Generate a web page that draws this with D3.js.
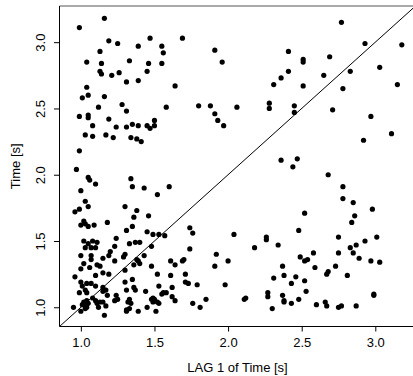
<!DOCTYPE html>
<html>
<head>
<meta charset="utf-8">
<script src="https://cdn.jsdelivr.net/npm/d3@7"></script>
<style>
  html, body { margin: 0; padding: 0; background: #fff; }
  svg text { font-family: "Liberation Sans", Arial, Helvetica, sans-serif; fill: #000; }
</style>
</head>
<body>
<div id="chart"></div>
<script>
// lag plot: x = Time(t-1), y = Time(t)
const lagX = [
  0.99,1.16,1.19,1.25,1.39,1.13,1.04,1.14,1.33,1.13,1.14,1.21,1.26,1.31,1.39,1.04,1.01,1.05,1.16,1.12,
  1.28,1.31,0.99,1.05,1.05,1.19,1.08,1.24,1.31,1.35,1.39,1.47,1.55,1.56,1.69,1.91,1.96,1.46,1.55,1.45,
  1.64,1.58,1.80,1.88,1.91,1.93,1.97,2.06,2.28,2.28,1.45,1.47,1.50,1.50,2.77,2.93,3.18,2.41,2.51,2.51,
  2.69,2.41,2.36,2.31,2.51,2.65,2.83,3.03,3.15,2.78,2.45,2.45,2.71,2.97,
  1.03,1.08,1.17,1.22,1.34,1.38,1.41,0.99,0.97,1.05,1.06,1.10,1.00,1.34,1.35,1.03,1.05,0.96,0.99,1.30,
  1.38,1.36,1.02,1.03,1.05,1.09,1.00,1.18,1.31,1.35,1.02,1.05,1.08,1.11,1.03,1.07,1.10,1.24,1.23,1.33,
  1.37,1.40,1.43,1.60,1.52,1.46,1.45,1.49,1.53,1.57,1.74,1.76,2.04,2.26,2.26,1.48,1.74,2.18,3.11,2.92,
  2.36,2.47,2.44,2.68,2.78,2.78,2.85,2.98,2.86,2.84,2.52,2.48,2.34,2.75,2.93,3.01,2.83,2.87,
  1.00,1.07,1.07,1.20,1.19,1.30,1.29,1.15,1.23,1.38,1.02,1.00,1.06,1.11,1.13,1.36,0.96,1.10,1.15,1.19,
  1.30,1.00,1.01,1.04,1.07,1.10,1.03,1.04,0.99,1.15,1.17,1.18,1.15,1.30,1.31,1.36,1.37,1.08,1.04,1.02,
  1.05,1.10,1.01,1.03,1.04,1.11,1.13,1.15,1.24,1.25,1.23,1.33,1.32,1.34,0.95,1.00,1.03,1.12,1.17,1.16,
  1.31,1.31,1.33,1.39,
  1.43,1.39,1.40,1.48,1.92,1.91,2.00,1.61,1.64,1.69,1.70,1.52,1.61,1.71,1.71,1.73,1.79,1.98,1.35,1.53,
  1.44,1.62,1.56,1.55,1.58,1.49,1.48,1.49,1.52,1.50,1.62,1.64,1.53,1.45,1.51,1.76,1.81,1.85,2.12,2.11,
  2.27,2.27,
  2.85,2.89,2.49,2.52,2.54,2.58,2.75,2.97,3.03,2.37,2.59,2.68,2.67,2.73,2.81,2.31,2.38,2.46,2.43,2.52,
  2.53,2.37,2.38,2.38,2.43,2.48,2.30,2.60,2.66,2.67,2.75,2.77,2.87,2.99,2.99
];
const lagY = [
  3.11,3.18,3.01,2.99,2.97,2.93,2.85,2.84,2.86,2.78,2.76,2.75,2.77,2.70,2.71,2.66,2.58,2.60,2.59,2.51,
  2.53,2.48,2.44,2.45,2.43,2.42,2.37,2.36,2.36,2.38,2.37,3.03,2.97,2.92,3.03,2.94,2.85,2.84,2.84,2.78,
  2.67,2.51,2.52,2.52,2.46,2.41,2.37,2.51,2.54,2.50,2.37,2.35,2.41,2.37,3.15,2.99,2.98,2.93,2.87,2.85,
  2.89,2.78,2.73,2.68,2.67,2.75,2.78,2.81,2.68,2.65,2.52,2.47,2.49,2.44,
  2.30,2.29,2.30,2.28,2.28,2.27,2.25,2.18,2.04,1.98,1.96,1.93,1.88,1.97,1.91,1.80,1.76,1.72,1.74,1.76,
  1.73,1.68,1.65,1.63,1.61,1.62,1.62,1.64,1.58,1.61,1.50,1.48,1.50,1.49,1.45,1.45,1.45,1.52,1.46,1.48,
  1.49,1.49,1.90,1.91,1.85,1.69,1.57,1.55,1.55,1.54,1.60,1.56,1.55,1.53,1.51,1.46,1.44,1.45,2.31,2.26,
  2.11,2.12,2.06,2.00,1.91,1.82,1.79,1.74,1.69,1.64,1.71,1.58,1.47,1.53,1.50,1.53,1.45,1.47,
  1.39,1.39,1.36,1.42,1.39,1.40,1.38,1.37,1.35,1.36,1.33,1.29,1.30,1.32,1.31,1.32,1.23,1.24,1.26,1.25,
  1.28,1.19,1.16,1.18,1.18,1.16,1.13,1.11,1.11,1.15,1.13,1.09,1.12,1.19,1.13,1.15,1.13,1.07,1.05,1.04,
  1.03,1.05,1.02,1.01,1.00,1.03,1.04,1.04,1.09,1.06,1.05,1.06,1.04,1.03,1.00,0.97,0.99,1.00,1.01,0.94,
  0.98,0.97,0.99,0.97,
  1.39,1.35,1.33,1.31,1.40,1.31,1.35,1.35,1.32,1.35,1.36,1.25,1.24,1.25,1.19,1.18,1.17,1.17,1.21,1.16,
  1.12,1.15,1.11,1.10,1.11,1.07,1.06,1.04,1.04,1.06,1.08,1.05,1.03,1.00,0.97,1.03,1.00,1.06,1.07,1.06,
  1.11,1.08,
  1.41,1.37,1.38,1.35,1.36,1.41,1.41,1.35,1.34,1.31,1.30,1.27,1.25,1.31,1.24,1.22,1.24,1.23,1.18,1.20,
  1.12,1.09,1.05,1.04,1.03,1.06,0.99,1.02,1.04,1.01,1.00,1.01,1.01,1.09,1.10
];
const xTicks = [1.0, 1.5, 2.0, 2.5, 3.0];
const yTicks = [1.0, 1.5, 2.0, 2.5, 3.0];
const xTitle = "LAG 1 of Time [s]";
const yTitle = "Time [s]";

const points = lagX.map((v, i) => ({ x: v, y: lagY[i] }));

const width = 413, height = 376;
const plot = { left: 59.5, right: 415.5, top: 6, bottom: 326.5 };
const lim = [0.855, 3.273];

const svg = d3.select("#chart").append("svg")
  .attr("width", width)
  .attr("height", height);

const x = d3.scaleLinear().domain(lim).range([plot.left, plot.right]);
const y = d3.scaleLinear().domain(lim).range([plot.bottom, plot.top]);

svg.append("clipPath").attr("id", "clip")
  .append("rect")
    .attr("x", plot.left).attr("y", plot.top)
    .attr("width", plot.right - plot.left).attr("height", plot.bottom - plot.top);

// x axis
const xAxis = svg.append("g")
  .attr("transform", `translate(0,${plot.bottom})`)
  .call(d3.axisBottom(x).tickValues(xTicks).tickFormat(d3.format(".1f")).tickSize(5).tickPadding(6));
xAxis.select(".domain").remove();
xAxis.selectAll("text").style("font-size", "13px");
xAxis.selectAll("line").attr("stroke", "#000");

// y axis, labels rotated like R
const yAxis = svg.append("g")
  .attr("transform", `translate(${plot.left},0)`)
  .call(d3.axisLeft(y).tickValues(yTicks).tickFormat(d3.format(".1f")).tickSize(5.5));
yAxis.select(".domain").remove();
yAxis.selectAll("line").attr("stroke", "#000");
yAxis.selectAll("text")
  .attr("x", null).attr("dy", null)
  .attr("text-anchor", "middle")
  .attr("transform", "translate(-15,0) rotate(-90)")
  .style("font-size", "13px");

// frame (top edge is soft grey in the original)
svg.append("line").attr("x1", plot.left).attr("x2", plot.right).attr("y1", plot.top).attr("y2", plot.top).attr("stroke", "#555");
svg.append("line").attr("x1", plot.left).attr("x2", plot.right).attr("y1", plot.bottom).attr("y2", plot.bottom).attr("stroke", "#000");
svg.append("line").attr("x1", plot.left).attr("x2", plot.left).attr("y1", plot.top).attr("y2", plot.bottom).attr("stroke", "#000");
svg.append("line").attr("x1", plot.right).attr("x2", plot.right).attr("y1", plot.top).attr("y2", plot.bottom).attr("stroke", "#000");

// identity line
svg.append("line")
  .attr("clip-path", "url(#clip)")
  .attr("x1", x(lim[0])).attr("y1", y(lim[0]))
  .attr("x2", x(lim[1])).attr("y2", y(lim[1]))
  .attr("stroke", "#000").attr("stroke-width", 1);

// points
svg.append("g")
  .selectAll("circle")
  .data(points)
  .join("circle")
    .attr("cx", d => x(d.x))
    .attr("cy", d => y(d.y))
    .attr("r", 2.6)
    .attr("fill", "#000");

// titles
svg.append("text")
  .attr("x", (plot.left + plot.right) / 2)
  .attr("y", 372)
  .attr("text-anchor", "middle")
  .style("font-size", "13px")
  .text(xTitle);

svg.append("text")
  .attr("transform", `translate(19.5,${(plot.top + plot.bottom) / 2}) rotate(-90)`)
  .attr("text-anchor", "middle")
  .style("font-size", "13px")
  .text(yTitle);
</script>
</body>
</html>
